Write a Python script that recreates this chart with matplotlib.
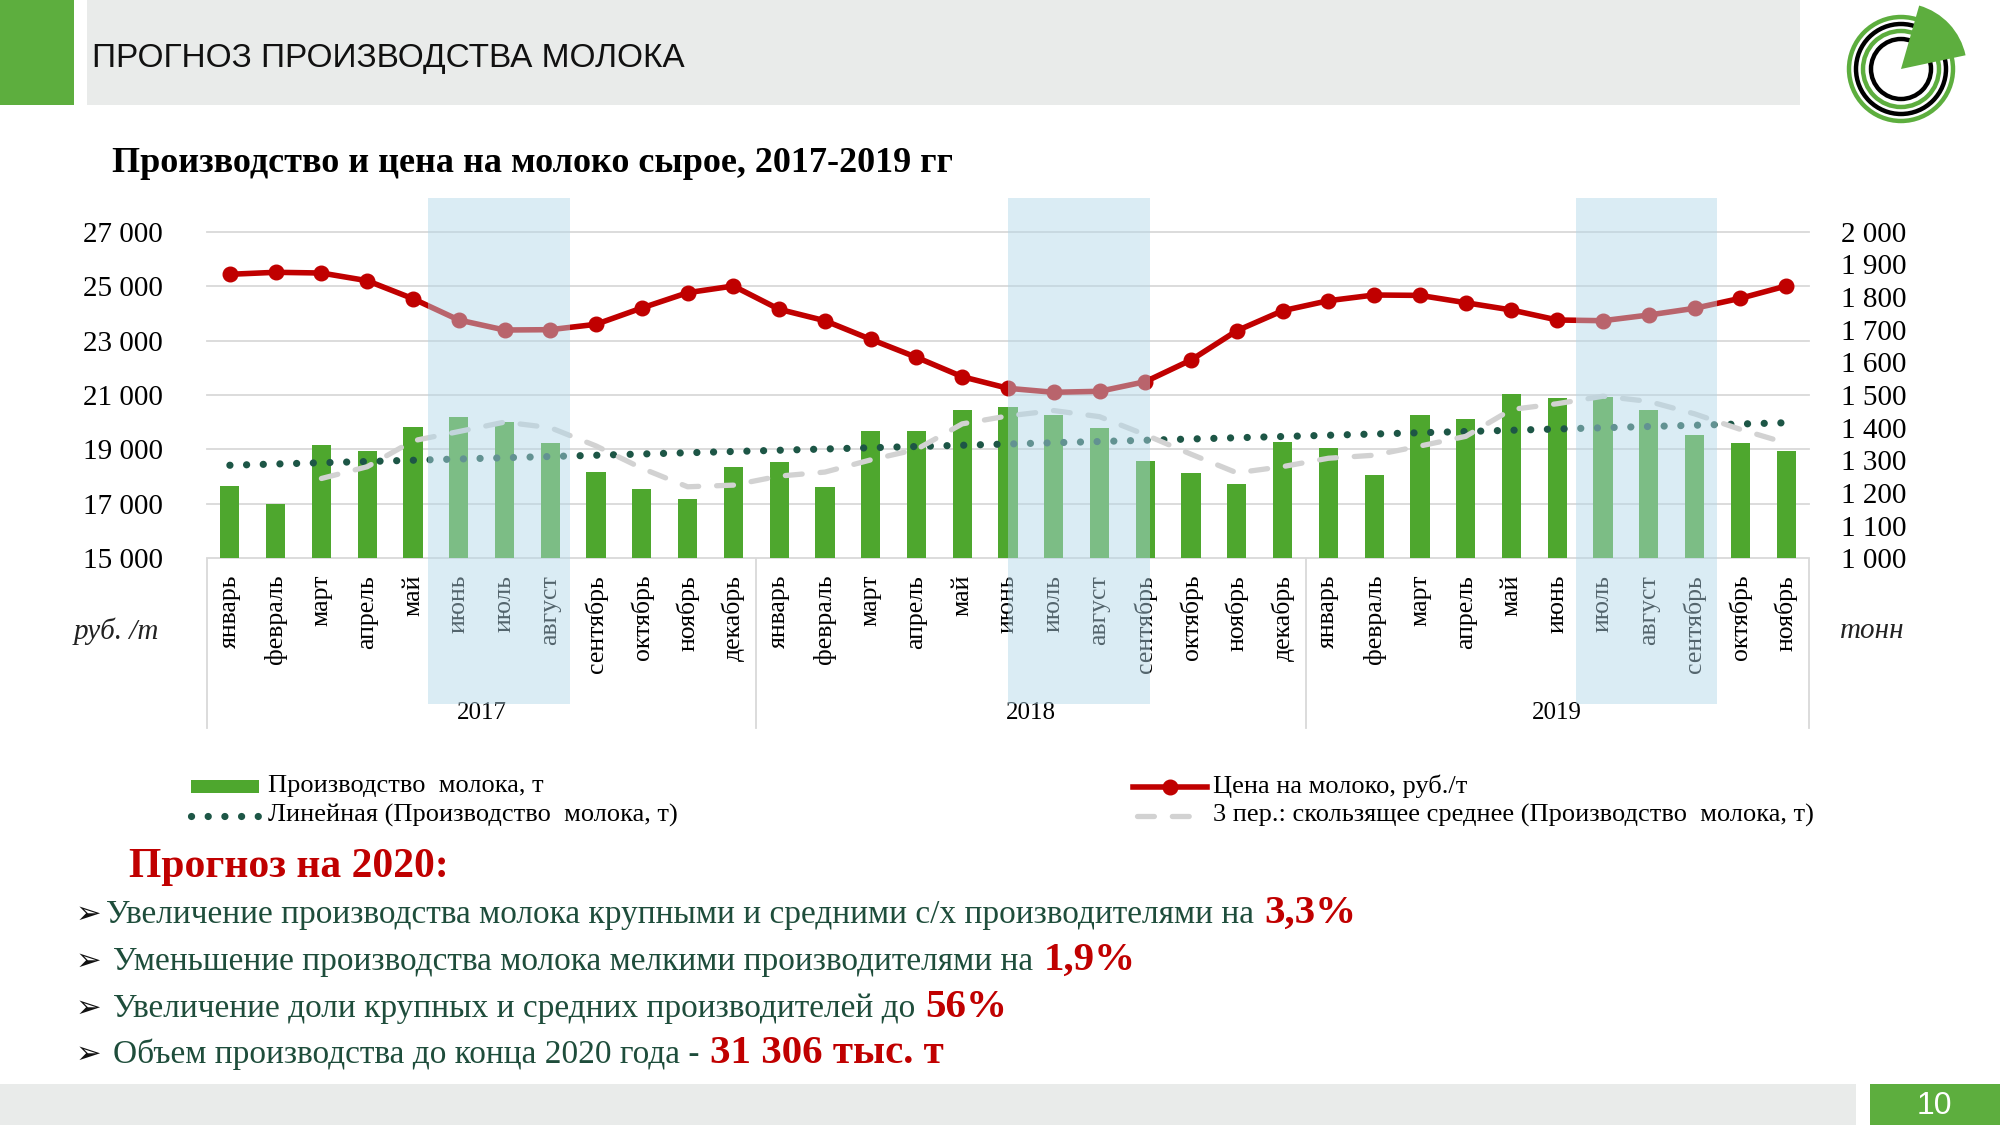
import numpy as np
import pandas as pd
import matplotlib
matplotlib.use("Agg")
import matplotlib.pyplot as plt
from matplotlib.patches import Rectangle, Wedge, Circle
from matplotlib.lines import Line2D
from matplotlib.transforms import blended_transform_factory

plt.rcParams["font.family"] = ["Liberation Serif", "DejaVu Serif"]

# ---- data ----
months = ["январь", "февраль", "март", "апрель", "май", "июнь",
          "июль", "август", "сентябрь", "октябрь", "ноябрь", "декабрь"]
month_labels = months * 2 + months[:11]
years = ["2017", "2018", "2019"]
year_month_counts = [12, 12, 11]

# цена на молоко, руб./т (left axis)
price = [25435, 25508, 25482, 25200, 24538, 23756, 23388, 23400, 23598, 24197, 24759, 25005,
         24149, 23730, 23047, 22385, 21672, 21246, 21099, 21136, 21489, 22286, 23362, 24097,
         24465, 24674, 24660, 24391, 24123, 23756, 23730, 23939, 24185, 24553, 25005]

# производство молока, т (right axis)
production = [1221, 1165, 1347, 1329, 1403, 1432, 1416, 1352, 1264, 1211, 1182, 1279,
              1294, 1219, 1391, 1390, 1454, 1464, 1439, 1398, 1298, 1260, 1227, 1355,
              1337, 1255, 1439, 1426, 1502, 1492, 1495, 1454, 1378, 1352, 1329]

left_ticks = [15000, 17000, 19000, 21000, 23000, 25000, 27000]
right_ticks = [1000, 1100, 1200, 1300, 1400, 1500, 1600, 1700, 1800, 1900, 2000]

# summer months highlighted on the slide (category positions)
shaded = [(4.33, 7.44), (17.0, 20.1), (29.4, 32.5)]

GREEN = "#4EA72E"
RED = "#C00000"
TREND = "#1D5646"
MA_GRAY = "#D2D2D2"
GRID = "#D9D9D9"
HEAD_GREEN = "#5DAE3E"
HEAD_GRAY = "#E9EBEA"
TXT_GREEN = "#1E4D3B"
SHADE = "#B2D7E8"

x = np.arange(len(production))
trend = np.polyval(np.polyfit(x, production, 1), x)
ma3 = pd.Series(production).rolling(3).mean()

DOTS = (0, (0.01, 2.3))
DASHES = (0, (3.2, 3.4))

fig = plt.figure(figsize=(20, 11.25), dpi=100)

# background layer in pixel coordinates
bg = fig.add_axes([0, 0, 1, 1], zorder=-1)
bg.set_xlim(0, 2000)
bg.set_ylim(1125, 0)
bg.axis("off")

# header
bg.add_patch(Rectangle((0, 0), 74, 105, color=HEAD_GREEN, lw=0))
bg.add_patch(Rectangle((87, 0), 1713, 105, color=HEAD_GRAY, lw=0))
bg.text(92, 58, "ПРОГНОЗ ПРОИЗВОДСТВА МОЛОКА", family="Liberation Sans",
        fontsize=24, va="center", ha="left", color="#111111")

# logo
cx, cy = 1901, 69
for r, c in [(52, HEAD_GREEN), (45, "black"), (38, HEAD_GREEN), (30, "black")]:
    bg.add_patch(Circle((cx, cy), r, fill=False, ec=c, lw=3.2))
bg.add_patch(Wedge((cx, cy), 66, -74, -12, color=HEAD_GREEN, lw=0))

# footer
bg.add_patch(Rectangle((0, 1084), 1856, 41, color=HEAD_GRAY, lw=0))
bg.add_patch(Rectangle((1870, 1084), 130, 41, color=HEAD_GREEN, lw=0))
bg.text(1934, 1106, "10", family="Liberation Sans", fontsize=23, color="white",
        ha="center", va="center")

# chart title
bg.text(112, 163, "Производство и цена на молоко сырое, 2017-2019 гг",
        fontsize=26, fontweight="bold", va="center", ha="left")

# ---- chart ----
ax = fig.add_axes([207 / 2000, 1 - 558.3 / 1125, 1602 / 2000, 326.6 / 1125])
ax.plot(x, price, color=RED, lw=4.0, marker="o", ms=10.5, zorder=3)
ax.set_ylim(15000, 27000)
ax.set_yticks(left_ticks, [f"{v:,}".replace(",", " ") for v in left_ticks], fontsize=21)
ax.set_xlim(-0.5, 34.5)
ax.set_xticks(x, month_labels, rotation=90, fontsize=18.5)
ax.tick_params(axis="y", length=0, pad=32)
ax.tick_params(axis="x", length=0, pad=12)
ax.grid(axis="y", color=GRID, lw=1.3)
ax.set_axisbelow(True)
for gl in ax.get_ygridlines():
    gl.set_clip_on(False)
for s in ax.spines.values():
    s.set_visible(False)

ax2 = ax.twinx()
ax2.bar(x, production, width=0.42, color=GREEN, zorder=1)
ax2.plot(x, trend, color=TREND, lw=5.2, linestyle=DOTS,
         dash_capstyle="round", zorder=2)
ax2.plot(x, ma3, color=MA_GRAY, lw=3.8, linestyle=DASHES,
         dash_capstyle="round", zorder=2)
ax2.set_ylim(1000, 2000)
ax2.set_yticks(right_ticks, [f"{v:,}".replace(",", " ") for v in right_ticks], fontsize=21)
ax2.tick_params(axis="y", length=0, pad=23)
for s in ax2.spines.values():
    s.set_visible(False)

trans = blended_transform_factory(ax.transData, fig.transFigure)

# year separators and labels
start = -0.5
for yr, n in zip(years, year_month_counts):
    ax.text(start + n / 2, 1 - 713 / 1125, yr, transform=trans, ha="center",
            va="center", fontsize=18)
    fig.add_artist(Line2D([start, start], [1 - 559 / 1125, 1 - 728 / 1125],
                          transform=trans, color=GRID, lw=1.3))
    start += n
fig.add_artist(Line2D([start, start], [1 - 559 / 1125, 1 - 728 / 1125],
                      transform=trans, color=GRID, lw=1.3))

# highlighted summer periods
for a, b in shaded:
    fig.add_artist(Rectangle((a, 1 - 704 / 1125), b - a, 506 / 1125, transform=trans,
                             facecolor=SHADE, alpha=0.47, lw=0, zorder=10))

# axis unit labels
bg.text(116, 631, "руб. /т", fontsize=21, style="italic", ha="center", va="center",
        color="#222222")
bg.text(1872, 631, "тонн", fontsize=21, style="italic", ha="center", va="center",
        color="#222222")

# ---- legend ----
bg.add_patch(Rectangle((191, 780), 68, 13, color=GREEN, lw=0))
bg.add_line(Line2D([191, 259], [816, 816], color=TREND, lw=5.2,
                   linestyle=DOTS, dash_capstyle="round"))
bg.add_line(Line2D([1133, 1207], [787, 787], color=RED, lw=4.0))
bg.add_line(Line2D([1170], [787], color=RED, marker="o", ms=10.5))
bg.add_line(Line2D([1137, 1203], [816, 816], color=MA_GRAY, lw=3.8,
                   linestyle=DASHES, dash_capstyle="round"))
leg_kw = dict(fontsize=19, va="center", ha="left")
bg.text(268, 786, "Производство  молока, т", **leg_kw)
bg.text(268, 815, "Линейная (Производство  молока, т)", **leg_kw)
bg.text(1213, 786, "Цена на молоко, руб./т", **leg_kw)
bg.text(1213, 815, "3 пер.: скользящее среднее (Производство  молока, т)", **leg_kw)

# ---- forecast text ----
bg.text(129, 877, "Прогноз на 2020:", fontsize=30, fontweight="bold", color=RED,
        va="baseline", ha="left")

bullets = [
    ("Увеличение производства молока крупными и средними с/х производителями на ", "3,3%", 923, 106),
    ("Уменьшение производства молока мелкими производителями на ", "1,9%", 970, 113),
    ("Увеличение доли крупных и средних производителей до ", "56%", 1017, 113),
    ("Объем производства до конца 2020 года - ", "31 306 тыс. т", 1063, 113),
]
renderer = fig.canvas.get_renderer()
for body, num, yb, xt in bullets:
    bg.text(76, yb, "➢", family="DejaVu Sans", fontsize=22, color="#111111",
            va="baseline", ha="left")
    t = bg.text(xt, yb, body, fontsize=24, color=TXT_GREEN, va="baseline", ha="left")
    bb = t.get_window_extent(renderer)
    bg.text(bb.x1 + 2, yb, num, fontsize=29.5, fontweight="bold", color=RED,
            va="baseline", ha="left")

fig.savefig("out.png", dpi=100)
